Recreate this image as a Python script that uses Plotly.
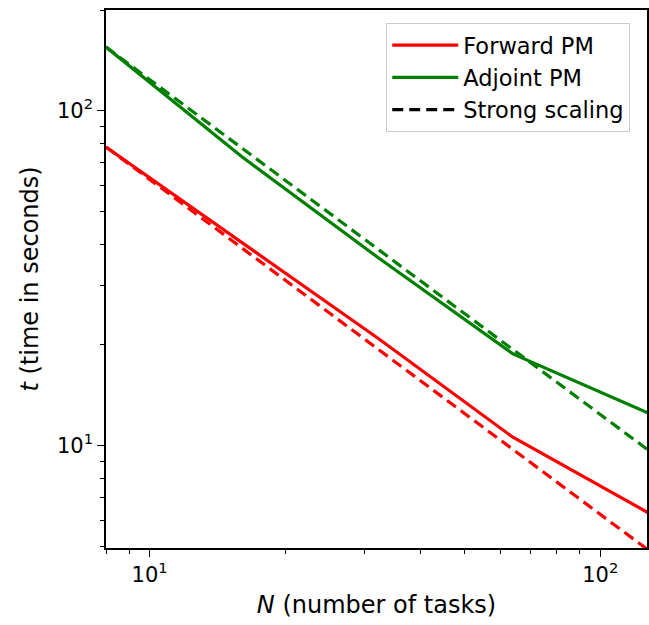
import plotly.graph_objects as go
import math

N = [8, 16, 32, 64, 128]
forward_pm = [78, 40.5, 21.0, 10.6, 6.3]
adjoint_pm = [155, 73, 36.6, 18.8, 12.5]
forward_strong = [78, 39, 19.5, 9.75, 4.875]
adjoint_strong = [155, 77.5, 38.75, 19.375, 9.6875]

major_ticks = [10, 100]
major_text = ["10<sup>1</sup>", "10<sup>2</sup>"]
minor_ticks = [5, 6, 7, 8, 9, 20, 30, 40, 50, 60, 70, 80, 90, 200]

RED = "#ff0000"
GREEN = "#008000"
FONT = "DejaVu Sans"

fig = go.Figure()
fig.add_trace(go.Scatter(x=N, y=forward_pm, mode="lines", name="Forward PM",
                         line=dict(color=RED, width=3.2)))
fig.add_trace(go.Scatter(x=N, y=adjoint_pm, mode="lines", name="Adjoint PM",
                         line=dict(color=GREEN, width=3.2)))
fig.add_trace(go.Scatter(x=N, y=forward_strong, mode="lines", showlegend=False,
                         line=dict(color=RED, width=3.2, dash="11px,6px")))
fig.add_trace(go.Scatter(x=N, y=adjoint_strong, mode="lines", showlegend=False,
                         line=dict(color=GREEN, width=3.2, dash="11px,6px")))
fig.add_trace(go.Scatter(x=[None], y=[None], mode="lines", name="Strong scaling",
                         line=dict(color="black", width=3.2, dash="11px,6px")))

axis_common = dict(
    type="log", showgrid=False, zeroline=False, automargin=False,
    showline=True, linecolor="black", linewidth=1.5, mirror=True,
    ticks="outside", ticklen=7, tickwidth=1.3, tickcolor="black",
    tickmode="array", tickvals=major_ticks, ticktext=major_text,
    tickfont=dict(family=FONT, size=21, color="black"),
    minor=dict(ticks="outside", ticklen=4, tickwidth=1, tickcolor="black",
               tickvals=minor_ticks, showgrid=False),
)

fig.update_layout(
    width=649, height=625,
    margin=dict(l=106, r=2, t=10, b=77),
    plot_bgcolor="white", paper_bgcolor="white",
    font=dict(family=FONT, size=21, color="black"),
    xaxis=dict(axis_common, range=[math.log10(8), math.log10(127)],
               title=dict(text="<i>N</i> (number of tasks)",
                          font=dict(family=FONT, size=24), standoff=10)),
    yaxis=dict(axis_common, range=[math.log10(4.95), math.log10(200)],
               title=dict(text="<i>t</i> (time in seconds)",
                          font=dict(family=FONT, size=24), standoff=12)),
    legend=dict(x=0.969, y=0.976, xanchor="right", yanchor="top",
                bgcolor="rgba(255,255,255,0.8)", bordercolor="#cccccc",
                borderwidth=1, font=dict(family=FONT, size=22.5),
                tracegroupgap=0, itemwidth=66),
)

fig.write_html("out.html", config={"displayModeBar": False},
               post_script="document.body.style.margin='0';document.body.style.padding='0';")
